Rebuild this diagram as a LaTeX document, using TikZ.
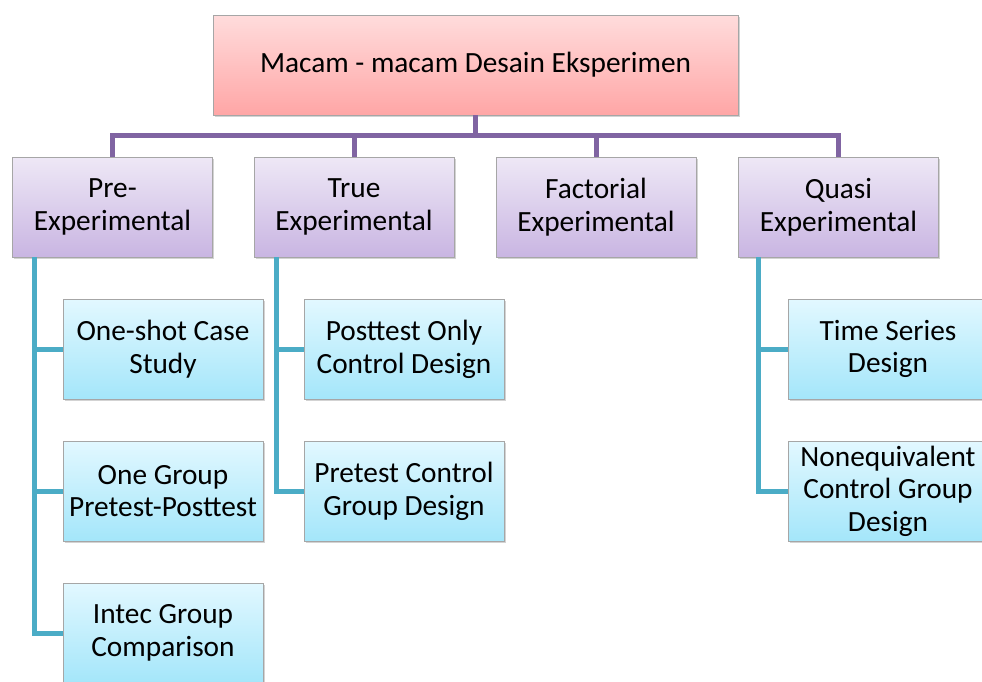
\documentclass[tikz,border=0pt]{standalone}
\usepackage{fontspec}
\setmainfont{Carlito}
\usetikzlibrary{shadows}

\definecolor{busline}{HTML}{8064A2}
\definecolor{stemline}{HTML}{4BACC6}
\definecolor{rootTop}{HTML}{FFDCDC}
\definecolor{rootBot}{HTML}{FFA6A6}
\definecolor{typeTop}{HTML}{EEE8F6}
\definecolor{typeBot}{HTML}{C9B5E2}
\definecolor{designTop}{HTML}{E2F8FF}
\definecolor{designBot}{HTML}{A4E6FA}

\tikzset{
  box/.style={draw=black!35, line width=0.6pt, minimum width=150pt, minimum height=75pt,
    align=center, font=\fontsize{22}{24.5}\selectfont,
    drop shadow={shadow xshift=1.2pt, shadow yshift=-1.5pt, opacity=0.35}},
  rootbox/.style={box, minimum width=393.75pt, top color=rootTop, bottom color=rootBot},
  typebox/.style={box, top color=typeTop, bottom color=typeBot},
  designbox/.style={box, top color=designTop, bottom color=designBot},
  bus/.style={line width=3.75pt, busline},
  stem/.style={line width=3.75pt, stemline},
}

\begin{document}
\begin{tikzpicture}[x=0.75pt,y=-0.75pt]
\useasboundingbox (0,0) rectangle (982,682);

% top
\node[rootbox] (top) at (475.5,65) {Macam - macam Desain Eksperimen};

% kinds of design
\node[typebox] (pre) at (112.5,207) {Pre-\\Experimental};
\node[typebox] (true) at (354,207) {True\\Experimental};
\node[typebox] (fact) at (596,207) {Factorial\\Experimental};
\node[typebox] (quasi) at (838.5,207) {Quasi\\Experimental};

% designs
\node[designbox] (p1) at (163,349) {One-shot Case\\Study};
\node[designbox] (p2) at (163,491) {One Group\\Pretest-Posttest};
\node[designbox] (p3) at (163,633) {Intec Group\\Comparison};
\node[designbox] (t1) at (404,349) {Posttest Only\\Control Design};
\node[designbox] (t2) at (404,491) {Pretest Control\\Group Design};
\node[designbox] (q1) at (888,349) {Time Series\\Design};
\node[designbox] (q2) at (888,491) {Nonequivalent\\Control Group\\Design};

% connectors
\draw[bus] (top.south) -- ++(0,20) coordinate (hub);
\foreach \n in {pre,true,fact,quasi}
  \draw[bus] (hub) -| (\n.north);

\foreach \n in {p1,p2,p3}
  \draw[stem] ([xshift=16.5pt]pre.south west) |- (\n.west);
\foreach \n in {t1,t2}
  \draw[stem] ([xshift=17pt]true.south west) |- (\n.west);
\foreach \n in {q1,q2}
  \draw[stem] ([xshift=15pt]quasi.south west) |- (\n.west);
\end{tikzpicture}
\end{document}
